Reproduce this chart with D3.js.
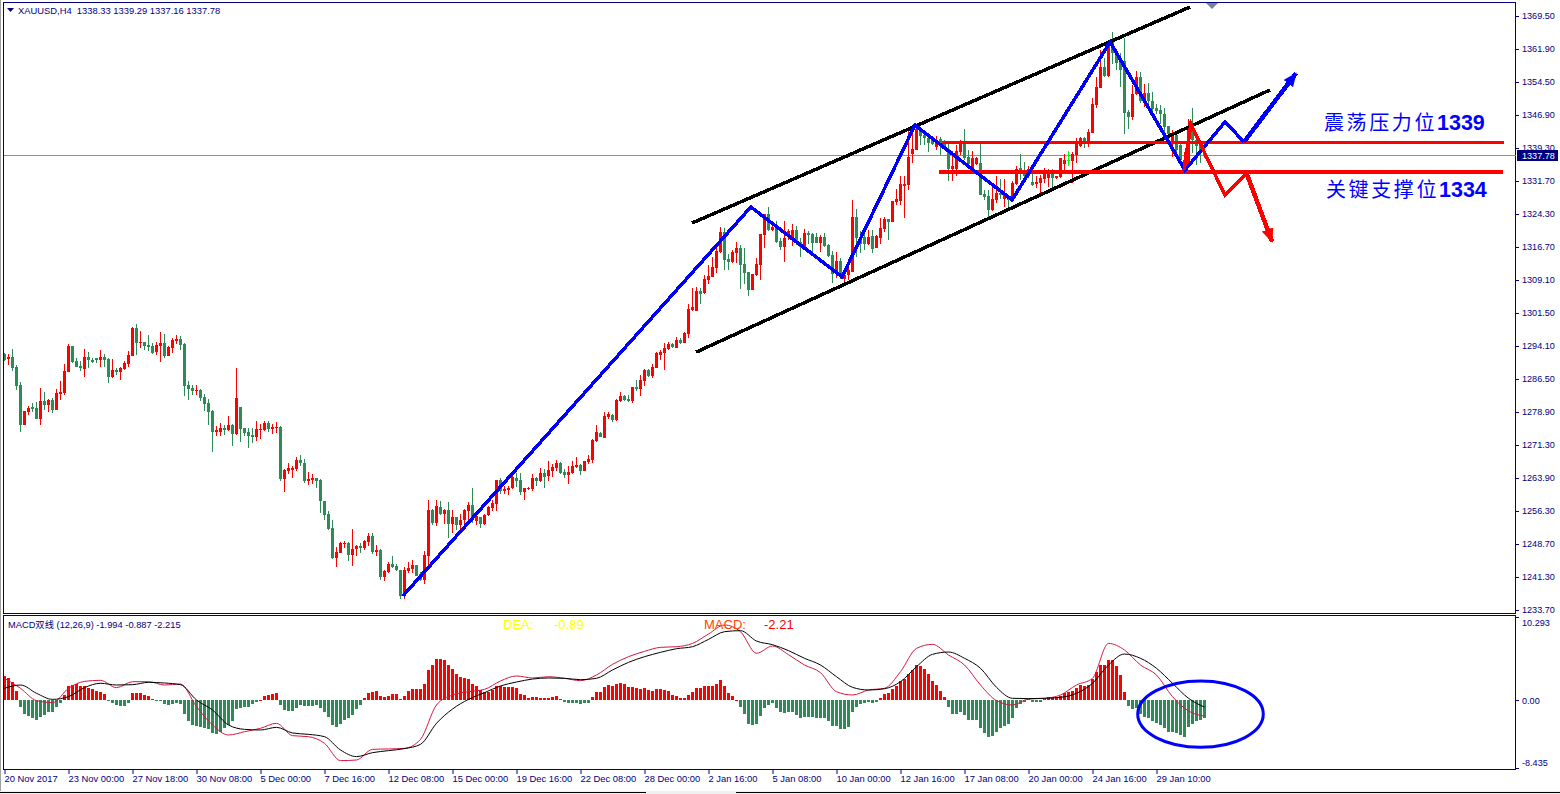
<!DOCTYPE html>
<html>
<head>
<meta charset="utf-8">
<script src="https://cdn.jsdelivr.net/npm/d3@7"></script>
<style>
  html, body { margin: 0; padding: 0; background: #fff; overflow: hidden; }
  text { font-family: "Liberation Sans", sans-serif; }
</style>
</head>
<body>
<div id="chart"></div>
<script>
// XAUUSD H4 candles, one value per bar
const opens = [
1292.6,1291.6,1292.0,1289.7,1285.7,1276.6,1279.5,1280.7,1280.4,1277.9,
1282.0,1281.1,1282.2,1280.0,1283.6,1283.8,1288.6,1294.5,1291.1,1290.0,
1289.3,1292.0,1291.4,1291.7,1291.3,1292.0,1291.6,1287.5,1289.1,1288.6,
1289.3,1290.4,1292.2,1298.6,1295.2,1295.4,1294.7,1294.5,1293.2,1294.5,
1295.2,1292.2,1294.1,1295.7,1296.1,1295.0,1285.7,1285.0,1284.3,1284.5,
1282.9,1281.6,1279.7,1275.0,1275.0,1275.9,1275.4,1276.6,1274.5,1280.7,
1275.9,1275.0,1274.3,1273.8,1275.4,1275.4,1277.0,1275.7,1275.9,1276.1,
1264.3,1266.1,1266.3,1266.6,1268.6,1267.9,1263.8,1264.0,1264.5,1264.0,
1259.2,1256.3,1253.1,1246.3,1247.4,1249.5,1249.7,1247.0,1248.3,1249.0,
1248.6,1249.9,1251.3,1247.6,1248.1,1242.0,1243.1,1244.9,1244.5,1243.6,
1237.6,1243.3,1243.8,1244.7,1242.6,1241.3,1246.7,1257.2,1254.2,1257.9,
1256.3,1257.2,1254.0,1255.6,1253.8,1254.9,1257.0,1258.3,1254.7,1255.6,
1254.0,1256.1,1257.6,1258.6,1264.0,1261.5,1261.7,1262.2,1264.5,1264.0,
1261.3,1262.0,1262.0,1264.5,1263.8,1265.6,1264.9,1266.1,1266.7,1267.9,
1265.8,1265.1,1265.6,1267.0,1267.5,1266.1,1268.2,1268.6,1273.0,1274.8,
1273.6,1278.4,1278.9,1277.7,1282.0,1283.2,1282.5,1282.0,1285.2,1284.8,
1286.6,1289.1,1287.7,1289.5,1292.5,1293.0,1293.9,1295.0,1294.1,1295.9,
1295.2,1297.3,1302.7,1302.5,1307.0,1306.6,1309.5,1310.2,1312.3,1315.9,
1320.5,1314.3,1313.6,1315.7,1316.8,1313.2,1311.4,1307.3,1310.7,1313.0,
1319.8,1324.5,1320.9,1321.6,1318.4,1317.0,1319.5,1318.6,1320.9,1318.2,
1317.0,1320.2,1320.0,1319.3,1318.0,1319.3,1317.5,1315.2,1310.9,1313.9,
1309.8,1310.7,1311.3,1323.9,1319.3,1319.3,1317.7,1319.5,1316.8,1319.0,
1321.1,1323.4,1322.7,1327.2,1327.4,1330.9,1331.1,1338.1,1339.0,1343.6,
1342.4,1341.8,1341.3,1339.7,1341.5,1340.4,1339.3,1334.7,1334.7,1338.6,
1341.1,1337.4,1334.0,1335.9,1336.1,1329.0,1328.6,1325.4,1327.7,1329.3,
1327.9,1328.4,1327.7,1331.3,1334.9,1334.5,1333.1,1331.8,1331.3,1331.5,
1332.4,1332.7,1334.5,1332.7,1333.0,1335.9,1336.8,1336.6,1337.9,1340.0,
1341.8,1341.1,1342.9,1349.3,1353.1,1357.9,1355.9,1364.1,1361.0,1359.1,
1359.3,1347.7,1346.6,1351.8,1355.6,1350.4,1352.0,1350.2,1348.6,1348.1,
1347.2,1344.5,1340.6,1342.5,1340.2,1335.3,1335.9,1344.7,1341.3,1340.0,
1338.33];
const highs = [
1292.9,1292.7,1293.8,1290.2,1286.3,1279.7,1280.9,1281.6,1281.8,1285.0,
1284.1,1282.5,1282.7,1284.7,1286.6,1290.4,1295.0,1294.5,1291.8,1291.1,
1293.8,1293.2,1291.8,1291.8,1293.6,1292.7,1291.8,1291.6,1289.5,1289.7,
1291.1,1293.4,1298.8,1299.5,1297.9,1295.4,1297.0,1295.2,1295.4,1297.7,
1297.2,1294.5,1296.3,1297.0,1296.8,1295.2,1286.6,1285.7,1285.7,1284.7,
1283.6,1282.5,1280.0,1276.3,1277.0,1276.6,1278.6,1276.8,1289.5,1280.7,
1275.9,1275.9,1275.9,1277.5,1276.8,1277.5,1277.5,1276.8,1277.2,1276.3,
1266.6,1267.9,1267.2,1269.3,1269.7,1268.8,1265.8,1265.4,1264.5,1264.2,
1259.2,1257.0,1254.9,1248.8,1249.9,1250.1,1249.9,1252.9,1249.2,1249.7,
1250.4,1252.0,1252.0,1249.2,1248.3,1243.6,1245.4,1246.7,1244.9,1243.6,
1244.2,1245.4,1245.8,1244.7,1243.1,1247.9,1259.5,1257.4,1259.5,1259.2,
1257.4,1259.0,1257.2,1255.6,1256.3,1257.4,1259.0,1262.2,1256.7,1255.6,
1256.3,1258.1,1259.5,1264.0,1264.5,1262.6,1262.6,1265.1,1265.6,1265.6,
1262.2,1262.4,1265.4,1264.7,1266.7,1266.5,1268.3,1267.6,1268.6,1268.1,
1266.5,1267.2,1268.4,1269.3,1267.7,1268.4,1269.8,1273.4,1276.6,1275.0,
1279.5,1279.5,1279.1,1282.5,1284.1,1283.4,1283.4,1285.2,1286.8,1288.0,
1289.3,1289.3,1290.5,1293.2,1293.6,1295.2,1295.5,1295.2,1296.6,1296.4,
1297.7,1304.1,1307.7,1308.0,1307.7,1310.7,1313.0,1314.8,1316.8,1321.6,
1321.4,1315.5,1316.4,1318.2,1317.5,1316.8,1311.4,1310.9,1314.5,1320.0,
1324.5,1326.1,1321.8,1323.0,1319.1,1323.0,1321.1,1322.3,1321.8,1319.1,
1321.1,1320.7,1320.2,1320.2,1319.8,1320.2,1317.7,1316.1,1315.9,1314.5,
1311.8,1313.0,1327.7,1325.7,1320.6,1320.1,1320.9,1320.9,1319.7,1323.6,
1323.9,1323.4,1327.4,1330.2,1333.1,1333.1,1343.6,1343.6,1344.5,1344.0,
1343.6,1342.4,1342.1,1342.2,1342.0,1341.3,1340.4,1338.8,1340.2,1341.3,
1343.8,1339.0,1338.8,1337.5,1340.4,1329.9,1329.9,1331.1,1333.1,1332.4,
1332.4,1328.8,1332.0,1335.4,1338.1,1336.3,1335.4,1333.6,1333.1,1333.4,
1334.9,1334.7,1334.7,1333.1,1337.2,1338.1,1338.8,1338.6,1341.7,1342.1,
1341.9,1343.8,1350.8,1355.7,1361.8,1359.9,1364.1,1365.9,1361.8,1361.0,
1364.5,1348.1,1353.8,1357.0,1356.8,1354.1,1354.2,1352.3,1349.5,1349.2,
1348.6,1344.5,1343.6,1342.8,1340.6,1338.7,1346.1,1348.6,1342.1,1340.9,
1339.29];
const lows = [
1291.1,1290.2,1288.8,1284.5,1275.0,1276.6,1278.8,1279.5,1277.9,1276.6,
1280.0,1279.5,1279.3,1280.0,1282.2,1283.4,1288.6,1290.7,1289.7,1288.8,
1287.5,1289.5,1290.7,1290.7,1289.7,1289.7,1286.1,1287.2,1287.9,1286.8,
1289.1,1289.7,1292.2,1292.5,1294.1,1293.6,1293.4,1292.7,1292.5,1290.9,
1291.8,1292.2,1292.9,1295.0,1293.6,1283.2,1282.2,1283.4,1283.4,1282.0,
1279.7,1276.6,1270.4,1274.1,1274.1,1274.3,1275.2,1271.8,1274.3,1272.7,
1274.1,1271.3,1272.5,1272.9,1273.4,1275.2,1275.0,1274.5,1274.7,1263.8,
1261.3,1265.4,1264.5,1266.1,1267.2,1263.3,1262.9,1263.1,1262.2,1256.5,
1254.9,1252.6,1246.1,1244.2,1247.4,1248.6,1245.6,1244.5,1246.7,1247.4,
1248.1,1249.0,1247.2,1246.7,1241.3,1241.1,1242.9,1244.0,1243.3,1237.0,
1237.0,1242.9,1242.9,1242.2,1241.1,1240.4,1244.7,1253.8,1253.6,1256.1,
1254.0,1250.8,1252.0,1252.6,1252.9,1253.8,1254.2,1254.2,1253.8,1253.1,
1253.8,1255.8,1257.0,1257.0,1260.8,1260.8,1260.6,1262.0,1262.4,1260.6,
1259.5,1261.7,1261.5,1262.6,1263.6,1262.2,1263.8,1264.7,1266.1,1265.4,
1264.5,1263.1,1265.5,1266.7,1265.2,1266.1,1267.7,1268.0,1272.7,1273.9,
1273.6,1278.0,1277.3,1277.5,1281.8,1282.0,1281.8,1281.6,1284.3,1283.2,
1285.5,1287.5,1287.3,1289.5,1291.4,1289.1,1293.6,1294.1,1294.1,1295.0,
1295.2,1296.4,1302.5,1302.5,1304.1,1306.4,1308.6,1310.2,1311.1,1315.7,
1311.8,1311.8,1313.4,1313.4,1307.5,1308.6,1305.9,1307.3,1310.5,1309.4,
1316.8,1320.7,1320.7,1318.0,1316.4,1313.6,1318.6,1317.3,1317.5,1314.8,
1317.0,1317.7,1315.9,1318.0,1315.9,1317.0,1314.8,1308.9,1310.0,1309.8,
1308.9,1309.5,1311.3,1314.8,1315.6,1316.3,1317.4,1315.6,1316.8,1317.7,
1320.4,1318.6,1322.7,1326.5,1326.5,1323.6,1329.9,1336.0,1339.0,1340.2,
1340.2,1338.6,1340.2,1339.0,1337.9,1339.0,1332.0,1332.0,1333.1,1337.9,
1336.8,1335.4,1333.7,1335.6,1328.8,1327.7,1323.9,1325.2,1326.9,1327.9,
1326.2,1326.2,1327.3,1331.1,1332.2,1332.2,1332.6,1330.9,1330.3,1329.2,
1331.5,1330.6,1330.6,1332.4,1332.7,1334.5,1335.4,1331.5,1336.0,1339.7,
1339.4,1339.7,1342.8,1348.5,1353.1,1355.6,1355.7,1358.6,1357.2,1353.4,
1342.7,1343.8,1345.9,1351.6,1349.7,1348.8,1348.1,1347.4,1347.2,1345.0,
1342.1,1340.6,1337.5,1338.7,1335.3,1334.7,1335.3,1338.3,1335.6,1336.0,
1337.16];
const closes = [
1291.3,1292.0,1289.5,1285.4,1276.6,1279.7,1280.4,1280.2,1277.9,1282.0,
1281.1,1282.2,1280.0,1283.8,1284.1,1288.8,1294.5,1290.9,1289.7,1289.5,
1292.0,1291.3,1290.9,1291.3,1292.0,1291.3,1287.5,1289.1,1288.6,1289.5,
1290.7,1292.5,1298.6,1295.2,1295.4,1294.5,1294.3,1292.9,1294.7,1295.2,
1292.2,1294.3,1295.9,1296.1,1294.7,1285.4,1284.7,1284.3,1284.5,1282.7,
1281.3,1279.5,1275.0,1275.4,1275.9,1275.4,1276.6,1274.5,1282.7,1275.7,
1274.7,1274.1,1273.8,1275.7,1275.7,1277.0,1275.7,1276.1,1276.1,1264.3,
1266.3,1266.8,1266.8,1268.6,1267.9,1263.8,1264.2,1264.5,1263.8,1259.2,
1256.1,1252.9,1246.3,1247.6,1249.7,1249.7,1247.0,1248.3,1249.0,1248.6,
1250.1,1251.3,1247.6,1248.1,1242.0,1243.3,1244.9,1244.2,1243.6,1237.6,
1243.6,1244.0,1244.7,1242.2,1241.3,1247.0,1257.2,1254.2,1258.1,1256.3,
1257.2,1254.0,1255.6,1253.8,1254.9,1257.2,1258.3,1254.9,1255.8,1254.0,
1256.1,1257.9,1258.8,1264.0,1261.5,1262.0,1262.2,1264.7,1263.8,1261.3,
1262.2,1262.2,1264.5,1263.8,1265.6,1264.7,1266.3,1267.0,1267.9,1265.6,
1265.1,1265.8,1267.2,1267.5,1266.1,1268.4,1268.9,1273.2,1275.0,1273.9,
1278.6,1279.1,1277.7,1282.3,1283.2,1282.3,1282.0,1285.2,1284.8,1286.8,
1289.1,1287.7,1289.8,1293.0,1293.2,1294.1,1295.0,1294.3,1295.9,1295.2,
1297.5,1303.0,1303.4,1307.0,1306.4,1309.8,1310.5,1312.5,1316.1,1320.5,
1314.1,1313.6,1315.9,1316.8,1313.0,1311.1,1307.3,1310.9,1313.2,1320.0,
1324.5,1320.9,1321.6,1318.2,1317.0,1319.1,1320.7,1320.9,1318.2,1317.0,
1320.2,1319.8,1318.0,1318.0,1319.3,1317.3,1315.0,1310.9,1313.9,1310.2,
1310.7,1311.8,1323.9,1319.1,1317.7,1317.7,1319.3,1316.5,1319.5,1321.3,
1323.4,1322.7,1327.4,1327.9,1331.3,1331.3,1337.4,1339.3,1343.8,1342.2,
1341.8,1340.6,1340.4,1341.3,1340.2,1339.3,1334.7,1335.4,1338.8,1341.1,
1337.2,1335.9,1337.2,1337.2,1328.8,1328.4,1325.4,1327.9,1329.3,1328.8,
1329.3,1327.7,1331.5,1334.7,1334.3,1333.1,1334.7,1331.1,1331.8,1332.7,
1334.5,1334.5,1332.7,1333.1,1337.2,1336.8,1336.6,1338.1,1340.9,1341.8,
1341.1,1343.1,1349.5,1353.4,1357.9,1355.9,1363.1,1361.0,1358.8,1357.2,
1347.5,1346.6,1351.8,1355.6,1350.2,1352.0,1350.2,1348.4,1347.9,1347.2,
1344.3,1342.7,1342.5,1339.1,1336.8,1336.8,1344.1,1341.3,1340.0,1338.3,
1337.78];
// one small candle is drawn lime in the terminal
const limeBars = [266];

// MACD histogram, one value per bar
const macdHist = [
2.98,2.73,2.23,1.12,-.87,-1.74,-1.98,-2.23,-2.48,-2.11,
-1.86,-1.49,-1.49,-.87,-.37,.62,1.74,1.86,1.98,1.74,
1.74,1.49,1.36,1.12,.99,.74,-.12,-.37,-.62,-.74,
-.74,-.37,.87,.87,.87,.62,.50,.12,-.04,-.08,
-.50,-.62,-.50,-.37,-.50,-1.74,-2.60,-3.10,-3.22,-3.35,
-3.47,-3.60,-4.09,-4.21,-3.97,-3.47,-3.10,-2.60,-1.12,-.99,
-.87,-.87,-.50,-.25,.04,.50,.62,.74,.87,-.62,
-1.24,-1.36,-1.36,-.99,-.62,-.74,-.74,-.74,-.62,-.99,
-1.49,-2.11,-3.10,-3.35,-2.98,-2.48,-2.23,-1.86,-1.12,-.62,
.25,.87,.99,1.12,.50,.37,.50,.74,.74,.12,
.50,1.12,1.36,1.36,1.36,1.98,3.72,4.34,5.08,5.08,
4.96,4.34,3.84,3.22,2.85,2.73,2.60,1.98,1.74,1.24,
.99,.99,1.24,1.74,1.74,1.61,1.61,1.61,1.49,.74,
.62,.25,.37,.37,.25,.25,.25,.37,.50,.12,
-.25,-.37,-.37,-.37,-.50,-.37,-.37,.37,.99,.99,
1.61,1.86,1.74,1.98,2.11,1.98,1.61,1.61,1.49,1.36,
1.49,1.24,1.12,1.36,1.36,1.24,1.12,.62,.50,.25,
.25,.62,.99,1.49,1.49,1.74,1.74,1.74,1.98,2.48,
1.74,.87,.50,.04,-.87,-1.74,-2.98,-3.10,-2.98,-1.98,
-.99,-.62,-.37,-.99,-1.49,-1.61,-1.49,-1.49,-1.86,-2.23,
-2.11,-2.11,-2.11,-2.23,-2.23,-2.23,-2.60,-3.22,-3.22,-3.60,
-3.60,-3.35,-1.49,-.87,-.50,-.37,-.25,-.37,-.25,.25,
.74,.87,1.36,1.74,2.36,2.60,3.22,3.72,4.34,4.21,
3.84,3.22,2.36,1.86,1.12,.37,-.87,-1.74,-1.74,-1.49,
-1.86,-2.48,-2.48,-2.48,-3.47,-4.09,-4.59,-4.46,-3.97,-3.47,
-3.22,-2.98,-2.23,-.99,-.50,-.25,.12,-.25,-.25,-.25,
.12,.37,.37,.37,.50,.87,.99,1.12,1.49,1.86,
1.74,1.86,2.60,3.47,4.34,4.34,4.96,4.96,4.21,3.10,
.99,-.74,-1.12,-.99,-1.74,-2.11,-2.23,-2.60,-2.85,-3.10,
-3.47,-3.97,-3.97,-4.09,-4.34,-4.59,-3.35,-2.98,-2.60,-2.48,
-2.215];

// MACD and signal lines
const macdLine = [
2.69,1.45,-.08,-.33,1.45,2.31,2.44,1.53,2.27,2.27,1.86,1.98,-.83,-3.10,-4.34,-3.93,-3.51,-2.89,-4.42,-4.55,
-5.37,-7.52,-7.44,-6.12,-6.07,-5.99,-4.88,-.62,.62,1.03,1.32,2.36,2.98,2.73,2.89,2.69,2.40,3.10,4.42,5.37,
6.03,6.53,6.61,7.02,8.18,9.30,8.47,5.79,6.69,5.62,4.34,3.39,1.03,.62,1.24,1.45,3.51,6.40,6.90,5.58,
4.34,1.86,-.08,-.62,.12,.21,.62,1.86,2.69,7.02,6.20,4.34,3.10,.41,-1.36,-1.994];
const signalLine = [
1.45,1.86,.83,.08,.41,1.53,2.07,1.86,1.90,2.19,2.11,1.90,0,-1.24,-3.10,-3.64,-3.72,-3.39,-4.09,-4.26,
-4.55,-6.20,-7.02,-6.53,-6.28,-6.03,-5.50,-2.89,-1.12,.08,.91,1.74,2.23,2.60,2.73,2.69,2.52,2.69,3.72,4.67,
5.37,5.91,6.36,6.61,7.52,8.47,8.60,7.31,6.86,6.12,5.17,4.34,2.89,1.57,1.24,1.40,2.27,4.13,5.66,5.95,
5.17,3.93,1.57,.21,.17,.21,.33,.83,2.07,4.34,5.70,5.17,3.93,2.07,.21,-.887];

// axis labels
const priceTicks = ["1369.50","1361.90","1354.50","1346.90","1339.30","1331.70","1324.30","1316.70","1309.10","1301.50",
  "1294.10","1286.50","1278.90","1271.30","1263.90","1256.30","1248.70","1241.30","1233.70"];
const timeLabels = ["20 Nov 2017","23 Nov 00:00","27 Nov 18:00","30 Nov 08:00","5 Dec 00:00","7 Dec 16:00","12 Dec 08:00",
  "15 Dec 00:00","19 Dec 16:00","22 Dec 08:00","28 Dec 00:00","2 Jan 16:00","5 Jan 08:00","10 Jan 00:00","12 Jan 16:00",
  "17 Jan 08:00","20 Jan 00:00","24 Jan 16:00","29 Jan 10:00"];
const macdTicks = [10.293, 0, -8.435];
const macdTickLabels = ["10.293", "0.00", "-8.435"];

// hand drawn annotations as [bar, price]
const channelTop = [[171.9, 1322.45], [296.4, 1371.55]];
const channelBottom = [[172.9, 1293.1], [316.4, 1352.7]];
const blueZigzag = [[99.6, 1237.7], [186.6, 1326.1], [209.4, 1310.2], [227.6, 1344.7], [251.9, 1327.7],
  [276.4, 1363.6], [295.1, 1334.5], [305.1, 1345.4], [309.9, 1340.9]];
const blueArrow = [[309.9, 1340.9], [322.9, 1356.5]];
const redZigzag = [[294.9, 1334.5], [296.6, 1344.95], [305.1, 1328.8], [310.5, 1333.8]];
const redArrow = [[310.5, 1333.8], [316.9, 1318.2]];
const resistanceLine = [[234.4, 1340.8], [374.9, 1340.8]];
const supportLine = [[233.5, 1334.0], [374.6, 1334.0]];
// circled area in the MACD window: centre bar, centre value, radius in bars, radius in value
const macdEllipse = [299, -1.75, 15.7, 4.12];

const width = 1560;
const height = 794;
const navy = "#000080";
const upColor = "#ff0000";
const downColor = "#2e8b57";
const tickFont = "9.1px";

const svg = d3.select("#chart").append("svg")
  .attr("width", width)
  .attr("height", height)
  .style("display", "block");

// scales
const xScale = d3.scaleLinear().domain([0, 300]).range([4.5, 1204.5]);
const yScale = d3.scaleLinear().domain([1369.5, 1233.7]).range([16, 613.5]);
const yTickScale = d3.scalePoint().domain(priceTicks).range([16, 610]);
const macdScale = d3.scaleLinear().domain([0, 10.293]).range([700, 617]);

const bars = d3.range(opens.length);

// window clips so nothing leaves the two panels
const defs = svg.append("defs");
defs.append("clipPath").attr("id", "mainClip").append("rect")
  .attr("x", 4).attr("y", 3).attr("width", 1511).attr("height", 610);
defs.append("clipPath").attr("id", "subClip").append("rect")
  .attr("x", 4).attr("y", 616).attr("width", 1511).attr("height", 153);

function arrowMarker(id, color) {
  defs.append("marker")
    .attr("id", id)
    .attr("markerUnits", "userSpaceOnUse")
    .attr("viewBox", "0 0 14 12")
    .attr("refX", 13)
    .attr("refY", 6)
    .attr("markerWidth", 14)
    .attr("markerHeight", 12)
    .attr("orient", "auto")
    .append("path")
    .attr("d", "M0,0 L14,6 L0,12 Z")
    .attr("fill", color);
}
arrowMarker("blueHead", "#0000ff");
arrowMarker("redHead", "#ff0000");

// frames
svg.append("rect").attr("x", 0).attr("y", 0).attr("width", 1).attr("height", height).attr("fill", "#a0a0a0");
[[3.5, 2.5, 1512, 611], [3.5, 615.5, 1512, 154]].forEach(([x, y, w, h]) => {
  svg.append("rect")
    .attr("x", x).attr("y", y).attr("width", w).attr("height", h)
    .attr("fill", "none").attr("stroke", navy).attr("shape-rendering", "crispEdges");
});

// last price line goes under the candles
svg.append("line")
  .attr("x1", 4).attr("x2", 1516)
  .attr("y1", Math.floor(yScale(closes[300])) + 0.5).attr("y2", Math.floor(yScale(closes[300])) + 0.5)
  .attr("stroke", "#8a8f99");

const candleColor = (i) => {
  if (limeBars.includes(i)) return "#00ff00";
  return closes[i] >= opens[i] ? upColor : downColor;
};

// candles
const candles = svg.append("g").attr("clip-path", "url(#mainClip)").attr("shape-rendering", "crispEdges");
candles.selectAll("line").data(bars).join("line")
  .attr("x1", (i) => xScale(i))
  .attr("x2", (i) => xScale(i))
  .attr("y1", (i) => yScale(highs[i]))
  .attr("y2", (i) => yScale(lows[i]))
  .attr("stroke", candleColor);
candles.selectAll("rect").data(bars).join("rect")
  .attr("x", (i) => xScale(i) - 1.5)
  .attr("width", 3)
  .attr("y", (i) => yScale(Math.max(opens[i], closes[i])))
  .attr("height", (i) => Math.max(1, Math.abs(yScale(opens[i]) - yScale(closes[i]))))
  .attr("fill", candleColor);

// annotation lines
const annotationLine = d3.line().x((d) => xScale(d[0])).y((d) => yScale(d[1]));
const notes = svg.append("g").attr("clip-path", "url(#mainClip)").attr("fill", "none").attr("stroke-linejoin", "miter");

function drawNote(points, color, strokeWidth, marker) {
  const path = notes.append("path")
    .attr("d", annotationLine(points))
    .attr("stroke", color)
    .attr("stroke-width", strokeWidth)
    .attr("shape-rendering", "crispEdges");
  if (marker) path.attr("marker-end", `url(#${marker})`);
}

drawNote(channelTop, "#000000", 3.5);
drawNote(channelBottom, "#000000", 3.5);
drawNote(resistanceLine, "#ff0000", 3.5);
drawNote(supportLine, "#ff0000", 3.5);
drawNote(blueZigzag, "#0000ff", 3.5);
drawNote(blueArrow, "#0000ff", 4.5, "blueHead");
drawNote(redZigzag, "#ff0000", 3.5);
drawNote(redArrow, "#ff0000", 4.5, "redHead");

// chinese labels on the price window
function levelLabel(x, y, words, number) {
  const label = svg.append("text").attr("x", x).attr("y", y).attr("fill", "#0000ff");
  label.append("tspan")
    .style("font-family", '"Noto Sans CJK SC", sans-serif')
    .style("font-size", "20px")
    .style("letter-spacing", "2.6px")
    .text(words);
  label.append("tspan")
    .style("font-family", '"Liberation Sans", sans-serif')
    .style("font-size", "21.5px")
    .style("font-weight", "bold")
    .text(number);
}
levelLabel(1324, 130, "震荡压力位", "1339");
levelLabel(1326, 197, "关键支撑位", "1334");

// top info row
svg.append("path").attr("d", "M7,8 L14,8 L10.5,12 Z").attr("fill", navy);
svg.append("text").attr("x", 18).attr("y", 14).attr("fill", navy).style("font-size", "9.4px")
  .attr("xml:space", "preserve")
  .text("XAUUSD,H4  1338.33 1339.29 1337.16 1337.78");
svg.append("path").attr("d", "M1206,3 L1218,3 L1212,9 Z").attr("fill", "#7a8499");

// price axis
const yAxis = d3.axisRight(yTickScale).tickSize(3).tickPadding(3);
const yAxisG = svg.append("g").attr("transform", "translate(1516,0)").call(yAxis);
yAxisG.select(".domain").remove();
yAxisG.selectAll("line").attr("stroke", navy);
yAxisG.selectAll("text").attr("fill", navy).style("font-size", tickFont).style("font-family", '"Liberation Sans", sans-serif');

// last price tag
svg.append("rect").attr("x", 1517).attr("y", 150).attr("width", 41).attr("height", 11).attr("fill", navy);
svg.append("text").attr("x", 1522).attr("y", 159).attr("fill", "#ffffff").style("font-size", tickFont)
  .text(closes[300].toFixed(2));

// macd histogram
const macdG = svg.append("g").attr("clip-path", "url(#subClip)");
macdG.append("g").attr("shape-rendering", "crispEdges")
  .selectAll("rect").data(bars).join("rect")
  .attr("x", (i) => xScale(i) - 1.5)
  .attr("width", 3)
  .attr("y", (i) => Math.min(macdScale(macdHist[i]), macdScale(0)))
  .attr("height", (i) => Math.max(1, Math.abs(macdScale(macdHist[i]) - macdScale(0))))
  .attr("fill", (i) => (macdHist[i] >= 0 ? upColor : downColor));

// macd and signal lines
const macdCurve = d3.line()
  .x((d, i) => xScale(i * 4))
  .y((d) => macdScale(d))
  .curve(d3.curveMonotoneX);
macdG.append("path").attr("d", macdCurve(macdLine)).attr("fill", "none").attr("stroke", "#dc143c");
macdG.append("path").attr("d", macdCurve(signalLine)).attr("fill", "none").attr("stroke", "#000000");

// circle around the last bars
const [ec, ev, erb, erv] = macdEllipse;
macdG.append("ellipse")
  .attr("cx", xScale(ec))
  .attr("cy", macdScale(ev))
  .attr("rx", xScale(erb) - xScale(0))
  .attr("ry", macdScale(0) - macdScale(erv))
  .attr("fill", "none")
  .attr("stroke", "#0000ff")
  .attr("stroke-width", 3);

// macd window texts
svg.append("text").attr("x", 8).attr("y", 628).attr("fill", navy).style("font-size", "9.3px")
  .style("font-family", '"Liberation Sans", "Noto Sans CJK SC", sans-serif')
  .text("MACD双线 (12,26,9) -1.994 -0.887 -2.215");
[["DEA:", 503, "#ffff00"], ["-0.89", 554, "#ffff00"], ["MACD:", 704, "#ff4500"], ["-2.21", 764, "#ff0000"]].forEach(([label, x, color]) => {
  svg.append("text").attr("x", x).attr("y", 629).attr("fill", color).style("font-size", "13px").text(label);
});

// macd axis, the two outer labels sit inside the window
const macdAxis = d3.axisRight(macdScale).tickValues(macdTicks).tickSize(3).tickPadding(3)
  .tickFormat((d, i) => macdTickLabels[i]);
const macdAxisG = svg.append("g").attr("transform", "translate(1516,0)").call(macdAxis);
macdAxisG.select(".domain").remove();
macdAxisG.selectAll("line").attr("stroke", navy);
macdAxisG.selectAll("text").attr("fill", navy).style("font-size", tickFont)
  .style("font-family", '"Liberation Sans", sans-serif')
  .attr("dy", (d, i) => [5.5, 0, -5.5][i] + 3);

// time axis
const xAxis = d3.axisBottom(xScale)
  .tickValues(d3.range(0, 300, 16))
  .tickFormat((d, i) => timeLabels[i])
  .tickSize(4)
  .tickPadding(1);
const xAxisG = svg.append("g").attr("transform", "translate(0,770)").call(xAxis);
xAxisG.select(".domain").remove();
xAxisG.selectAll("line").attr("stroke", navy);
xAxisG.selectAll("text")
  .attr("fill", navy)
  .attr("text-anchor", "start")
  .attr("x", -0.5)
  .style("font-size", "9.4px")
  .style("font-family", '"Liberation Sans", sans-serif');

// tab strip at the very bottom
svg.append("rect").attr("x", 0).attr("y", 791).attr("width", width).attr("height", 3).attr("fill", "#f0f0f0");
[[0, 646], [736, 1560]].forEach(([a, b]) => {
  svg.append("line").attr("x1", a).attr("x2", b).attr("y1", 792.5).attr("y2", 792.5).attr("stroke", "#000000");
});
</script>
</body>
</html>
